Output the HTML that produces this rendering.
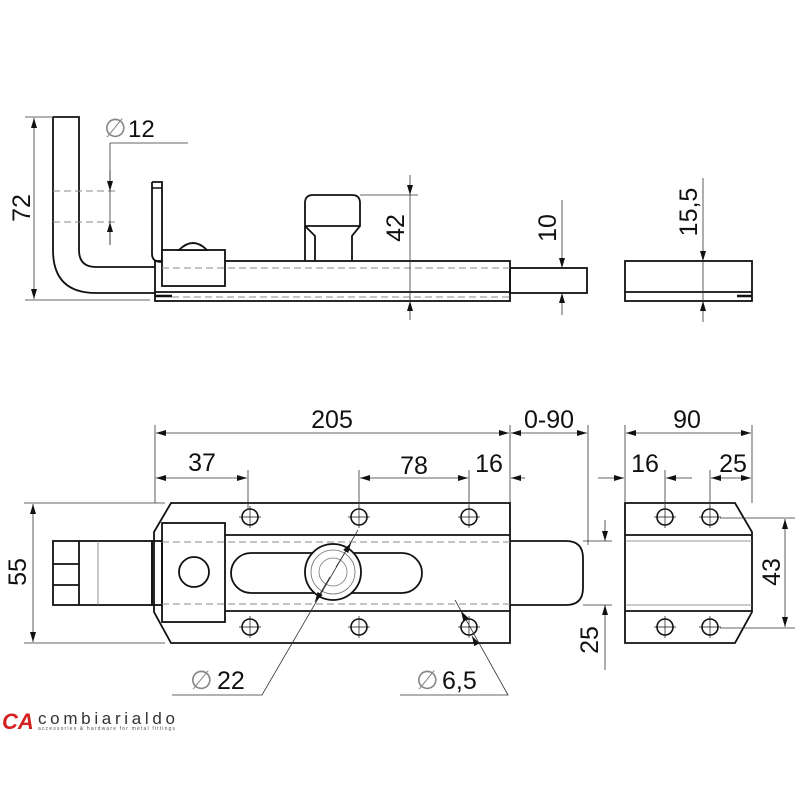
<!DOCTYPE html>
<html><head><meta charset="utf-8"><style>
html,body{margin:0;padding:0;background:#fff}
svg{display:block}
text{font-family:"Liberation Sans",sans-serif;fill:#111}
</style></head><body>
<svg width="800" height="800" viewBox="0 0 800 800" xmlns="http://www.w3.org/2000/svg">
<defs>
<marker id="a" viewBox="0 0 10 6" refX="10" refY="3" markerWidth="10" markerHeight="6" orient="auto-start-reverse" markerUnits="userSpaceOnUse"><path d="M0,0L10,3L0,6z" fill="#111"/></marker>
<g id="h"><circle r="8" fill="#fff" stroke="#111" stroke-width="1.6"/><path d="M-11,0H11M0,-11V11" stroke="#111" stroke-width="0.7"/></g>
</defs>
<g fill="none" stroke="#111" stroke-width="1.8">
<!-- TOP VIEW -->
<path d="M53,117H79V250Q79,267 96,267H155 M53,117V250Q53,293 96,293H155"/>
<path d="M152,182h10v80M152,182v72q0,8 10,8"/>
<line x1="152" y1="188" x2="162" y2="188" stroke-width="1.5"/>
<rect x="155" y="261" width="355" height="40"/>
<line x1="155" y1="292" x2="510" y2="292"/>
<rect x="162" y="250" width="63" height="36" fill="#fff"/>
<path d="M179,250q14,-14 28,0z" fill="#fff"/>
<path d="M305,261V226L305,203Q305,195 313,195H352Q360,195 360,203V226L352,236V261M305,226L315,236V261M305,226H360"/>
<rect x="510" y="268" width="77" height="25"/>
<rect x="625" y="261" width="127" height="40"/>
<line x1="625" y1="292" x2="752" y2="292"/>
<path d="M155,296h17M737,296h15" stroke-width="2.5"/>
<!-- BOTTOM VIEW main -->
<path d="M171,503H510V643H171L154,612V532Z"/>
<path d="M225,535H510M225,611H510"/>
<rect x="162" y="523" width="63" height="99" fill="#fff"/>
<circle cx="194" cy="572" r="15"/>
<rect x="231" y="553" width="191" height="40" rx="20"/>
<circle cx="333" cy="572" r="28" fill="#fff"/>
<rect x="53" y="541" width="99" height="64"/>
<path d="M79,541V605M53,564H79M53,585H79"/>
<rect x="152" y="541" width="10" height="64"/>
<path d="M510,541H566Q583,541 583,558V588Q583,605 566,605H510"/>
<!-- end view -->
<path d="M625,503H735L752,532V612L735,643H625Z"/>
<path d="M625,535H752M625,611H752"/>
</g>
<g fill="none" stroke="#888" stroke-width="1" stroke-dasharray="7,4">
<path d="M53,191H118M53,222H118"/>
<path d="M162,268H510M172,297H510"/>
<path d="M162,542H510M162,604H510"/>
</g>
<g fill="none" stroke="#777" stroke-width="0.8">
<circle cx="333" cy="572" r="22"/><circle cx="333" cy="572" r="14"/>
<path d="M98,541V605"/>
<path d="M625,541H752M625,605H752"/>
</g>
<g>
<use href="#h" x="250" y="517"/><use href="#h" x="359" y="517"/><use href="#h" x="469" y="517"/>
<use href="#h" x="250" y="627"/><use href="#h" x="359" y="627"/><use href="#h" x="469" y="627"/>
<use href="#h" x="665" y="517"/><use href="#h" x="710" y="517"/>
<use href="#h" x="665" y="627"/><use href="#h" x="710" y="627"/>
</g>
<!-- dimensions -->
<g fill="none" stroke="#333" stroke-width="0.8">
<path d="M25,117H53M25,300H150"/>
<line x1="34" y1="118" x2="34" y2="299" marker-start="url(#a)" marker-end="url(#a)"/>
<path d="M110,143H188M110,143V245"/>
<line x1="110" y1="170" x2="110" y2="191" marker-end="url(#a)"/>
<line x1="110" y1="245" x2="110" y2="222" marker-end="url(#a)"/>
<path d="M360,195H418"/>
<line x1="410" y1="175" x2="410" y2="195" marker-end="url(#a)"/>
<line x1="410" y1="320" x2="410" y2="301" marker-end="url(#a)"/>
<line x1="410" y1="195" x2="410" y2="301"/>
<line x1="562" y1="200" x2="562" y2="268" marker-end="url(#a)"/>
<line x1="562" y1="315" x2="562" y2="293" marker-end="url(#a)"/>
<line x1="703" y1="178" x2="703" y2="261" marker-end="url(#a)"/>
<line x1="703" y1="322" x2="703" y2="301" marker-end="url(#a)"/>
<line x1="703" y1="261" x2="703" y2="301"/>
<!-- bottom dims -->
<path d="M155,425V503M510,425V503M588,425V545M248,470V510M359,470V510M469,470V510"/>
<line x1="156" y1="433" x2="509" y2="433" marker-start="url(#a)" marker-end="url(#a)"/>
<line x1="511" y1="433" x2="587" y2="433" marker-start="url(#a)" marker-end="url(#a)"/>
<line x1="156" y1="478" x2="247" y2="478" marker-start="url(#a)" marker-end="url(#a)"/>
<line x1="360" y1="478" x2="468" y2="478" marker-start="url(#a)" marker-end="url(#a)"/>
<line x1="525" y1="478" x2="511" y2="478" marker-end="url(#a)"/>
<path d="M625,425V503M752,425V503M665,470V510M710,470V510"/>
<line x1="626" y1="433" x2="751" y2="433" marker-start="url(#a)" marker-end="url(#a)"/>
<line x1="598" y1="478" x2="624" y2="478" marker-end="url(#a)"/>
<line x1="692" y1="478" x2="666" y2="478" marker-end="url(#a)"/>
<line x1="734" y1="478" x2="711" y2="478" marker-end="url(#a)"/>
<line x1="734" y1="478" x2="751" y2="478" marker-end="url(#a)"/>
<path d="M720,518H795M720,628H795"/>
<line x1="785" y1="519" x2="785" y2="627" marker-start="url(#a)" marker-end="url(#a)"/>
<path d="M583,541H612M583,605H612"/>
<line x1="605" y1="520" x2="605" y2="541" marker-end="url(#a)"/>
<line x1="605" y1="670" x2="605" y2="605" marker-end="url(#a)"/>
<path d="M24,503H165M24,643H165"/>
<line x1="33" y1="504" x2="33" y2="642" marker-start="url(#a)" marker-end="url(#a)"/>
<path d="M172,695H262L358,530"/>
<line x1="330" y1="577" x2="315" y2="602" marker-end="url(#a)"/>
<line x1="336" y1="567" x2="351" y2="543" marker-end="url(#a)"/>
<path d="M400,695H508L455,600"/>
<line x1="465" y1="618" x2="461" y2="611" marker-end="url(#a)"/>
<line x1="472" y1="636" x2="477" y2="645" marker-start="url(#a)"/>
</g>
<g font-size="25">
<text x="128" y="137" font-size="24">12</text>
<text x="104" y="137" font-size="26" style="fill:#888">∅</text>
<text transform="translate(30,208) rotate(-90)" text-anchor="middle">72</text>
<text transform="translate(404,228) rotate(-90)" text-anchor="middle">42</text>
<text transform="translate(556,228) rotate(-90)" text-anchor="middle">10</text>
<text transform="translate(697,212) rotate(-90)" text-anchor="middle">15,5</text>
<text x="332" y="428" text-anchor="middle">205</text>
<text x="549" y="428" text-anchor="middle">0-90</text>
<text x="687" y="428" text-anchor="middle">90</text>
<text x="202" y="471" text-anchor="middle">37</text>
<text x="414" y="474" text-anchor="middle">78</text>
<text x="489" y="472" text-anchor="middle">16</text>
<text x="645" y="472" text-anchor="middle">16</text>
<text x="733" y="472" text-anchor="middle">25</text>
<text transform="translate(26,572) rotate(-90)" text-anchor="middle">55</text>
<text transform="translate(780,572) rotate(-90)" text-anchor="middle">43</text>
<text transform="translate(598,640) rotate(-90)" text-anchor="middle">25</text>
<text x="190" y="689" font-size="26" style="fill:#888">∅</text><text x="217" y="689">22</text>
<text x="416" y="689" font-size="26" style="fill:#888">∅</text><text x="442" y="689">6,5</text>
</g>
<text x="2" y="729" font-size="22" font-weight="bold" font-style="italic" style="fill:#d42020">CA</text>
<text x="38" y="724" font-size="17" style="fill:#333" textLength="137">combiarialdo</text>
<text x="38" y="730" font-size="5" style="fill:#555" textLength="137">accessories &amp; hardware for metal fittings</text>
</svg>
</body></html>
